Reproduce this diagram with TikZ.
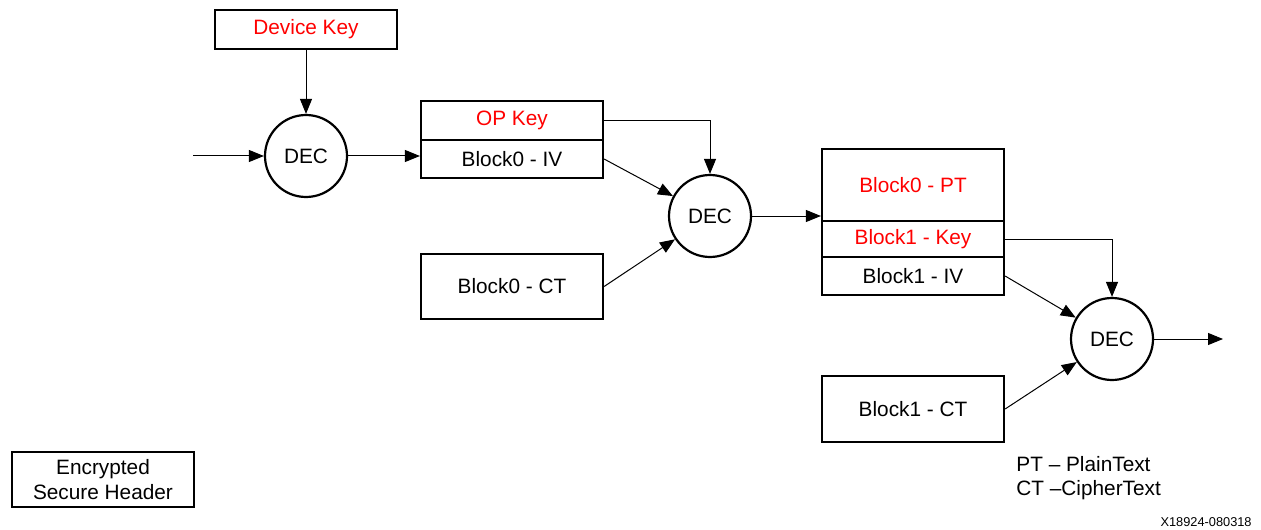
\documentclass[tikz,border=0pt]{standalone}
\usepackage{fontspec}
\setmainfont{Liberation Sans}
\usetikzlibrary{arrows.meta}
\begin{document}
\begin{tikzpicture}[x=0.5pt,y=-0.5pt,
  font=\fontsize{10.4pt}{12.2pt}\selectfont,
  cell/.style={draw, line width=1.1pt, minimum width=91pt, inner sep=0pt, anchor=center},
  deccirc/.style={draw, circle, line width=1.1pt, minimum size=41pt, inner sep=0pt},
  arr/.style={line width=0.5pt, -{Triangle[length=7.5pt,width=6pt]}},
  redtxt/.style={text=red}]
\useasboundingbox (0,0) rectangle (1261,529);
% top-left
\node[cell, redtxt, minimum height=19.5pt] (devkey) at (306,29.5) {Device Key};
\node[deccirc] (dec1) at (306,156) {DEC};
\coordinate (in) at (193,156);
% first stack
\node[cell, redtxt, minimum height=19.5pt] (opkey) at (512,120.5) {OP Key};
\node[cell, minimum height=19pt] (iv0) at (512,159) {Block0 - IV};
\node[cell, minimum height=32.5pt] (ct0) at (512,286.5) {Block0 - CT};
\node[deccirc] (dec2) at (710,216) {DEC};
% second stack
\node[cell, redtxt, minimum height=36pt] (pt0) at (913,185) {Block0 - PT};
\node[cell, redtxt, minimum height=18pt] (key1) at (913,239) {Block1 - Key};
\node[cell, minimum height=19pt] (iv1) at (913,276) {Block1 - IV};
\node[cell, minimum height=33pt] (ct1) at (913,409) {Block1 - CT};
\node[deccirc] (dec3) at (1112,339) {DEC};
\coordinate (out) at (1223,339);
% legend and header
\node[cell, minimum height=27.5pt, align=center] (esh) at (103,479.5) {Encrypted\\Secure Header};
\node[anchor=west, align=left, inner sep=0pt] (legend) at (1016,478) {PT -- PlainText\\CT --CipherText};
\node[anchor=east, inner sep=0pt, font=\fontsize{6.4pt}{8pt}\selectfont] (fig) at (1252,522) {X18924-080318};
% connectors
\draw[arr] (in) -- (dec1.west);
\draw[arr] (devkey.south) -- (dec1.north);
\draw[arr] (dec1.east) -- (dec1.east -| iv0.west);
\draw[arr] (opkey.east) -| (dec2.north);
\draw[arr] (iv0.east) -- (dec2);
\draw[arr] (ct0.east) -- (dec2);
\draw[arr] (dec2.east) -- (dec2.east -| pt0.west);
\draw[arr] (key1.east) -| (dec3.north);
\draw[arr] (iv1.east) -- (dec3);
\draw[arr] (ct1.east) -- (dec3);
\draw[arr] (dec3.east) -- (out);
\end{tikzpicture}
\end{document}
